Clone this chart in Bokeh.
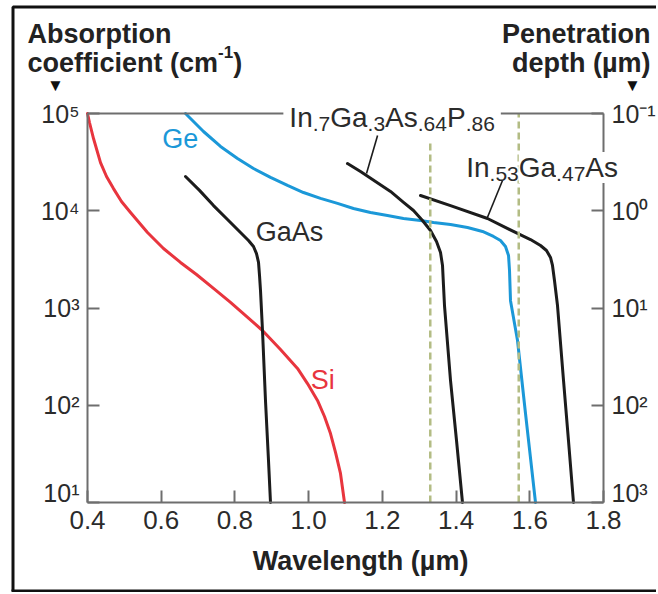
import math
from bokeh.plotting import figure
from bokeh.models import (Range1d, LogAxis, FixedTicker, Label,
                          PrintfTickFormatter, LogScale)
from bokeh.embed import file_html
from bokeh.resources import INLINE

# ---------------- data ----------------
si_x = [0.4000, 0.4054, 0.4163, 0.4353, 0.4516, 0.4705, 0.4922, 0.5167, 0.5628, 0.6062, 0.6523,
        0.6957, 0.7419, 0.7880, 0.8314, 0.8748, 0.9236, 0.9698, 0.9969, 1.0240, 1.0430, 1.0593,
        1.0729, 1.0864, 1.0973]
si_y = [1.00e5, 8.08e4, 5.53e4, 3.13e4, 2.25e4, 1.69e4, 1.245e4, 9.59e3, 5.97e3, 4.09e3, 2.94e3,
        2.21e3, 1.59e3, 1.14e3, 818, 587, 374, 239, 167, 112, 76.6, 51.2,
        32.7, 19.9, 10.0]

gaas_x = [0.6659, 0.7039, 0.7419, 0.7798, 0.8151, 0.8368, 0.8504, 0.8585, 0.8640, 0.8667,
          0.8694, 0.8748, 0.8829, 0.8911, 0.8965]
gaas_y = [2.25e4, 1.62e4, 1.13e4, 8.13e3, 5.97e3, 4.94e3, 4.29e3, 3.63e3, 2.94e3, 2.16e3,
          1.51e3, 587, 112, 27.0, 10.0]

ge_x = [0.6659, 0.6903, 0.7147, 0.7609, 0.8070, 0.8504, 0.8965, 0.9426, 0.9860, 1.0322, 1.0783,
        1.1217, 1.1678, 1.2139, 1.2574, 1.3035, 1.3388, 1.3849, 1.4310, 1.4717, 1.5015, 1.5205,
        1.5341, 1.5423, 1.5450, 1.5477, 1.5667, 1.5884, 1.6155]
ge_y = [1.00e5, 8.08e4, 6.53e4, 4.58e4, 3.45e4, 2.72e4, 2.20e4, 1.82e4, 1.54e4, 1.34e4, 1.19e4,
        1.055e4, 9.59e3, 8.94e3, 8.33e3, 7.94e3, 7.57e3, 7.22e3, 6.73e3, 6.12e3, 5.44e3, 4.94e3,
        4.29e3, 3.47e3, 2.43e3, 1.19e3, 463, 82.3, 10.0]

ingaasp_x = [1.1054, 1.1407, 1.1814, 1.2221, 1.2574, 1.2845, 1.3089, 1.3306, 1.3469, 1.3578,
             1.3632, 1.3659, 1.3686, 1.3849, 1.4012, 1.4174]
ingaasp_y = [3.06e4, 2.53e4, 2.00e4, 1.58e4, 1.22e4, 1.006e4, 7.94e3, 6.26e3, 4.83e3, 3.72e3,
             2.74e3, 1.70e3, 1.06e3, 180, 43.4, 10.0]

ingaas_x = [1.3035, 1.3849, 1.4853, 1.5667, 1.6019, 1.6291, 1.6453, 1.6562, 1.6616, 1.6670,
            1.6752, 1.6915, 1.7050, 1.7186]
ingaas_y = [1.435e4, 1.13e4, 8.33e3, 5.84e3, 5.06e3, 4.39e3, 3.90e3, 3.31e3, 2.74e3, 1.92e3,
            1.06e3, 180, 43.4, 10.0]

# wavelength markers (dashed)
marker_x = [1.33, 1.57]
marker_bottom = [1.0e1, 1.0e1]
marker_top = [5.0e4, 1.0e5]

# leader lines from compound labels to curves
leader_x0 = [1.187, 1.526]
leader_y0 = [5.94e4, 2.05e4]
leader_x1 = [1.157, 1.485]
leader_y1 = [2.42e4, 8.53e3]

wl_ticks = [0.4, 0.6, 0.8, 1.0, 1.2, 1.4, 1.6, 1.8]
alpha_ticks = [1e1, 1e2, 1e3, 1e4, 1e5]
alpha_labels = ["10\u00b9", "10\u00b2", "10\u00b3", "10\u2074", "10\u2075"]
depth_ticks = [0.1, 1.0, 10.0, 100.0, 1000.0]
depth_labels = ["10\u207b\u00b9", "10\u2070", "10\u00b9", "10\u00b2", "10\u00b3"]

X_MIN, X_MAX = 0.4, 1.8
A_MIN, A_MAX = 1e1, 1e5

# ---------------- layout / style ----------------
W, H = 656, 592
FL, FR, FT, FB = 87, 603, 113, 502          # pixel box of the drawn axes
FONT = "Liberation Sans"
AX = "#6e6e6e"
TXT = "#2b2b2b"
RED = "#e8353e"
BLUE = "#1b98d8"
BLK = "#1c1c1c"
DASH = "#b3bc84"

xs = (FR - FL) / (X_MAX - X_MIN)
ys = (FB - FT) / (math.log10(A_MAX) - math.log10(A_MIN))


def px2x(px):
    return X_MIN + (px - FL) / xs


def x2px(x):
    return FL + (x - X_MIN) * xs


def py2y(py):
    return 10 ** (math.log10(A_MAX) - (py - FT) / ys)


W_REG = {' ': 278, '(': 333, ')': 333, '-': 333, '.': 278, 'A': 667, 'G': 778, 'I': 278,
         'P': 667, 'W': 944, 'a': 556, 'b': 556, 'c': 500, 'd': 556, 'e': 556, 'f': 278,
         'g': 556, 'h': 556, 'i': 222, 'l': 222, 'm': 833, 'n': 556, 'o': 556, 'p': 556,
         'r': 333, 's': 500, 't': 278, 'u': 556, '\u00b5': 556}
W_BOLD = {' ': 278, '(': 333, ')': 333, '-': 333, '.': 278, 'A': 722, 'P': 667, 'W': 944,
          'a': 556, 'b': 611, 'c': 556, 'd': 611, 'e': 556, 'f': 333, 'g': 611, 'h': 611,
          'i': 278, 'l': 278, 'm': 889, 'n': 611, 'o': 611, 'p': 611, 'r': 389, 's': 556,
          't': 333, 'u': 611, '\u00b5': 611}


def tw(s, size, bold=False):
    t = W_BOLD if bold else W_REG
    return sum(t.get(c, 556) for c in s) * size / 1000.0


y_lo, y_hi = py2y(H), py2y(0)
p = figure(width=W, height=H, title=None,
           x_range=Range1d(px2x(0), px2x(W)), y_range=Range1d(y_lo, y_hi), y_axis_type="log",
           min_border=0, min_border_left=0, min_border_right=0, min_border_top=0, min_border_bottom=0,
           output_backend="svg", toolbar_location=None)
p.outline_line_color = None
p.grid.visible = False
p.background_fill_color = "white"
p.border_fill_color = "white"

p.extra_y_ranges = {"depth": Range1d(1e4 / y_lo, 1e4 / y_hi)}
p.extra_y_scales = {"depth": LogScale()}


def style_axis(ax, size="25px"):
    ax.axis_line_color = AX
    ax.axis_line_width = 2
    ax.major_tick_line_color = AX
    ax.major_tick_line_width = 2
    ax.major_tick_in = 12
    ax.major_tick_out = 0
    ax.minor_tick_line_color = None
    ax.major_label_text_font = FONT
    ax.major_label_text_font_size = size
    ax.major_label_text_color = TXT


xa = p.xaxis[0]
xa.ticker = FixedTicker(ticks=wl_ticks)
xa.formatter = PrintfTickFormatter(format="%.1f")
xa.fixed_location = A_MIN
xa.bounds = (X_MIN, X_MAX)
style_axis(xa, "26px")
xa.major_label_standoff = 8

ya = p.yaxis[0]
ya.ticker = FixedTicker(ticks=alpha_ticks)
ov = {float(t): l for t, l in zip(alpha_ticks, alpha_labels)}
ov[float(alpha_ticks[0])] = ""
ya.major_label_overrides = ov
ya.fixed_location = X_MIN
ya.bounds = (A_MIN, A_MAX)
style_axis(ya)
ya.major_label_standoff = 8

ra = LogAxis(y_range_name="depth", ticker=FixedTicker(ticks=depth_ticks))
ov = {float(t): l for t, l in zip(depth_ticks, depth_labels)}
ov[float(depth_ticks[-1])] = ""
ra.major_label_overrides = ov
ra.fixed_location = X_MAX
ra.bounds = (depth_ticks[0], depth_ticks[-1])
style_axis(ra)
ra.major_label_standoff = 8
p.add_layout(ra, "right")

# outer black border (left, top, bottom)
p.line([px2x(12.5), px2x(12.5), px2x(W + 5)], [py2y(590.5), py2y(6.5), py2y(6.5)],
       line_color="#111111", line_width=3)
p.line([px2x(11), px2x(W + 5)], [py2y(590.5), py2y(590.5)], line_color="#111111", line_width=3)

# ---------------- curves ----------------
LW = 3
for cx, cy, col in [(si_x, si_y, RED), (ge_x, ge_y, BLUE), (gaas_x, gaas_y, BLK),
                    (ingaasp_x, ingaasp_y, BLK), (ingaas_x, ingaas_y, BLK)]:
    p.line(cx, cy, line_color=col, line_width=LW, line_join="round", line_cap="round")
p.segment(x0=marker_x, y0=marker_bottom, x1=marker_x, y1=marker_top,
          line_color=DASH, line_width=2.5, line_dash="7 4")
p.segment(x0=leader_x0, y0=leader_y0, x1=leader_x1, y1=leader_y1,
          line_color=BLK, line_width=1.6)


# ---------------- texts ----------------
def label(x, y, text, size, color=TXT, bold=False, align="left", baseline="alphabetic",
          xo=0, yo=0, bg=None):
    kw = {}
    if bg is not None:
        kw = dict(background_fill_color=bg, background_fill_alpha=1.0)
    p.add_layout(Label(x=x, y=y, x_offset=xo, y_offset=yo, text=text,
                       text_font=FONT, text_font_size=f"{size}px",
                       text_font_style="bold" if bold else "normal",
                       text_color=color, text_align=align, text_baseline=baseline, **kw))


def rich(x, y, segs, xo=0, yo=0, color=TXT, bold=False, bg=None):
    off = xo
    for text, size, dy in segs:
        label(x, y, text, size, color=color, bold=bold, xo=off, yo=yo + dy, bg=bg)
        off += tw(text, size, bold)
    return off - xo


# corner tick labels, lifted off the x-axis labels
label(X_MIN, A_MIN, alpha_labels[0], 25, align="right", baseline="middle", xo=-8, yo=10)
label(X_MAX, A_MIN, depth_labels[-1], 25, align="left", baseline="middle", xo=8, yo=10)

# left title
label(X_MIN, A_MAX, "Absorption", 27, color="#222", bold=True, xo=-60, yo=80)
rich(X_MIN, A_MAX, [("coefficient (cm", 27, 0), ("-1", 17, 11), (")", 27, 0)],
     xo=-60, yo=51, color="#222", bold=True)
label(X_MIN, A_MAX, "\u25bc", 17, color="#111", align="center", baseline="middle", xo=-32, yo=28)

# right title
label(X_MAX, A_MAX, "Penetration", 27, color="#222", bold=True, align="right", xo=47, yo=80)
label(X_MAX, A_MAX, "depth (\u00b5m)", 27, color="#222", bold=True, align="right", xo=47, yo=51)
label(X_MAX, A_MAX, "\u25bc", 17, color="#111", align="center", baseline="middle", xo=29, yo=28)

# x-axis title
label(1.141, A_MIN, "Wavelength (\u00b5m)", 27, color="#222", bold=True, align="center",
      baseline="middle", yo=-58)

# curve labels
label(0.652, 5.5e4, "Ge", 27, color=BLUE, align="center", baseline="middle")
label(0.948, 6.1e3, "GaAs", 27, align="center", baseline="middle")
label(1.038, 180, "Si", 27, color=RED, align="center", baseline="middle")

MAIN, SUB, DY = 28, 21, -6
lab1_x, lab1_xo = 0.945, 1
lab1_w = rich(lab1_x, A_MAX, [("In", MAIN, 0), (".7", SUB, DY), ("Ga", MAIN, 0), (".3", SUB, DY),
                              ("As", MAIN, 0), (".64", SUB, DY), ("P", MAIN, 0), (".86", SUB, DY)],
              xo=lab1_xo, yo=-4, bg="white")
rich(1.420, A_MAX, [(" ", MAIN, 0), ("In", MAIN, 0), (".53", SUB, DY), ("Ga", MAIN, 0), (".47", SUB, DY),
                    ("As", MAIN, 0)],
     xo=-5, yo=-54, bg="white")

# top frame line, broken where the In.7Ga.3As.64P.86 label sits
gap_l = px2x(x2px(lab1_x) + lab1_xo - 6)
gap_r = px2x(x2px(lab1_x) + lab1_xo + lab1_w + 6)
p.line([X_MIN, gap_l], [A_MAX, A_MAX], line_color=AX, line_width=2)
p.line([gap_r, X_MAX], [A_MAX, A_MAX], line_color=AX, line_width=2)

open("out.html", "w").write(file_html(p, INLINE))
